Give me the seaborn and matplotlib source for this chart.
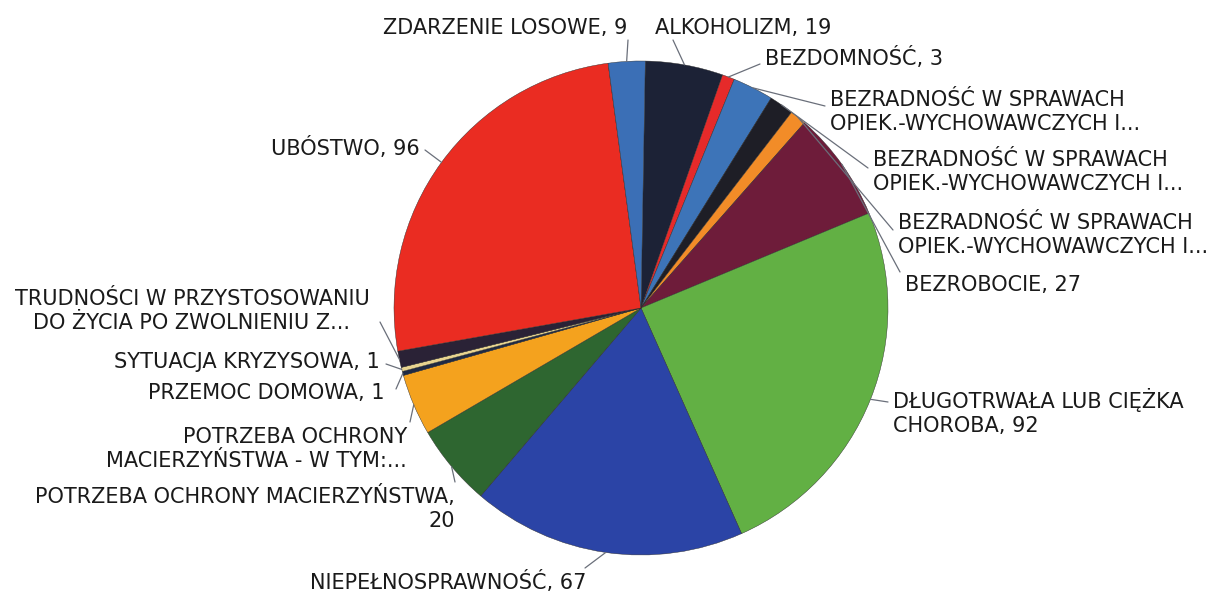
import numpy as np
import matplotlib
matplotlib.use('Agg')
import matplotlib.pyplot as plt
import seaborn as sns

# categories in drawing order (clockwise from the top)
categories = [
    'ALKOHOLIZM', 'BEZDOMNOŚĆ',
    'BEZRADNOŚĆ W SPRAWACH\nOPIEK.-WYCHOWAWCZYCH I...',
    'BEZRADNOŚĆ W SPRAWACH\nOPIEK.-WYCHOWAWCZYCH I...',
    'BEZRADNOŚĆ W SPRAWACH\nOPIEK.-WYCHOWAWCZYCH I...',
    'BEZROBOCIE', 'DŁUGOTRWAŁA LUB CIĘŻKA\nCHOROBA', 'NIEPEŁNOSPRAWNOŚĆ',
    'POTRZEBA OCHRONY MACIERZYŃSTWA,\n', 'POTRZEBA OCHRONY\nMACIERZYŃSTWA - W TYM:...',
    'PRZEMOC DOMOWA', 'SYTUACJA KRYZYSOWA',
    'TRUDNOŚCI W PRZYSTOSOWANIU\nDO ŻYCIA PO ZWOLNIENIU Z...',
    'UBÓSTWO', 'ZDARZENIE LOSOWE',
]
values = [19, 3, 10, 6, 4, 27, 92, 67, 20, 15, 1, 1, 4, 96, 9]
show_value = [True, True, False, False, False, True, True, True,
              True, False, True, True, False, True, True]

colors = ['#1c2236', '#e62a2a', '#3d74b8', '#1e1e26', '#f28c28',
          '#6e1c3a', '#62b044', '#2b44a6', '#2e6630', '#f4a21e',
          '#1f2a44', '#e8d490', '#2a2236', '#ea2c22', '#3b6fb6']

# label layout in figure pixels: text x, text y, ha, leader end x, leader end y
label_layout = [
    (655, 28, 'left', 673, 40),
    (765, 58, 'left', 760, 64),
    (830, 112, 'left', 825, 106),
    (873, 172, 'left', 868, 168),
    (898, 235, 'left', 893, 230),
    (905, 285, 'left', 900, 272),
    (893, 412, 'left', 888, 402),
    (448, 582, 'center', 585, 568),
    (455, 508, 'right', 455, 482),
    (407, 449, 'right', 410, 422),
    (385, 393, 'right', 396, 389),
    (380, 362, 'right', 386, 364),
    (192, 311, 'center', 380, 322),
    (420, 148, 'right', 425, 150),
    (627, 28, 'right', 628, 40),
]

W, H = 1224, 594
CX, CY, R = 641, 308, 247


def px2data(x, y):
    return (x - CX) / R, (CY - y) / R


sns.set_theme(style='white')
plt.rcParams['font.family'] = ['DejaVu Sans']

fig = plt.figure(figsize=(W / 100, H / 100), dpi=100)
ax = fig.add_axes([(CX - R) / W, (H - CY - R) / H, 2 * R / W, 2 * R / H])

wedges, _ = ax.pie(values, colors=colors, startangle=89, counterclock=False,
                   radius=1.0, wedgeprops=dict(linewidth=0.3, edgecolor='#2a2a2a'))
ax.set_xlim(-1, 1)
ax.set_ylim(-1, 1)
ax.axis('off')

for w, cat, val, show, (tx, ty, ha, lx, ly) in zip(
        wedges, categories, values, show_value, label_layout):
    if show:
        if cat.endswith('\n'):
            text = f'{cat}{val}'
        else:
            text = f'{cat}, {val}'
    else:
        text = cat
    mid = np.deg2rad((w.theta1 + w.theta2) / 2)
    sx, sy = np.cos(mid) * 1.0, np.sin(mid) * 1.0
    ex, ey = px2data(lx, ly)
    ax.plot([sx, ex], [sy, ey], color='#6a6f7a', lw=0.9, clip_on=False)
    x, y = px2data(tx, ty)
    ax.text(x, y, text, ha=ha, va='center', multialignment=ha,
            fontsize=15, color='#1a1a1a', linespacing=1.2, clip_on=False)

fig.savefig('out.png', dpi=100, facecolor='white')
